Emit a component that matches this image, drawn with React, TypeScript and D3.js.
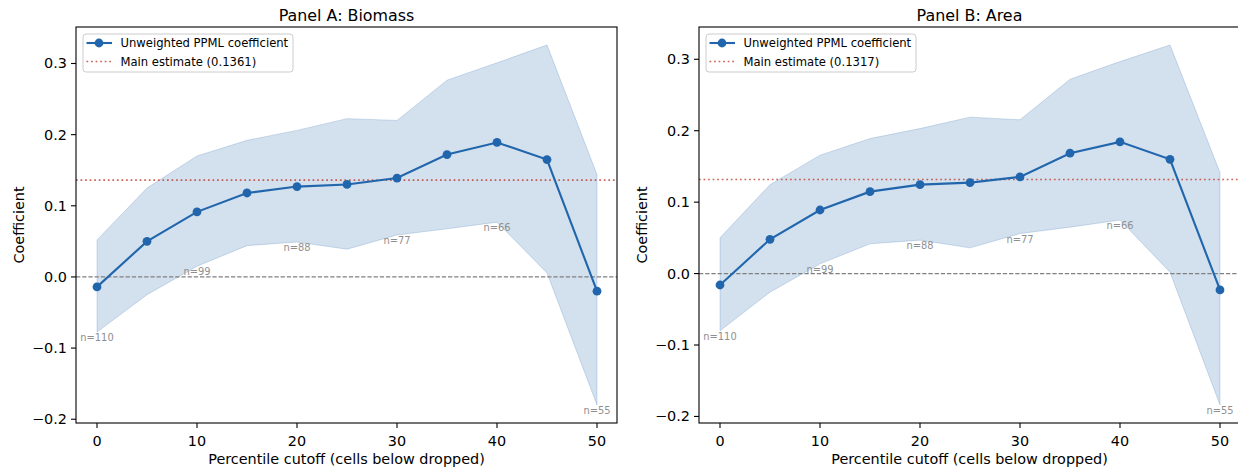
import React from "react";
import * as d3 from "d3";

const cutoffs = [0, 5, 10, 15, 20, 25, 30, 35, 40, 45, 50];
const biomassCoef = [-0.014, 0.05, 0.0915, 0.118, 0.127, 0.13, 0.139, 0.172, 0.189, 0.165, -0.02];
const biomassUpper = [0.052, 0.125, 0.17, 0.192, 0.206, 0.2225, 0.22, 0.2765, 0.301, 0.326, 0.144];
const biomassLower = [-0.0775, -0.025, 0.015, 0.044, 0.049, 0.039, 0.059, 0.0676, 0.077, 0.0056, -0.18];
const areaCoef = [-0.016, 0.048, 0.089, 0.1147, 0.1245, 0.1273, 0.1353, 0.1685, 0.1844, 0.16, -0.0229];
const areaUpper = [0.05, 0.1245, 0.1657, 0.189, 0.203, 0.219, 0.2153, 0.272, 0.2968, 0.32, 0.1414];
const areaLower = [-0.08, -0.026, 0.0136, 0.0417, 0.0468, 0.036, 0.056, 0.065, 0.0749, 0.002, -0.184];
const nLabelCutoffs = [0, 10, 20, 30, 40, 50];
const nLabels = [110, 99, 88, 77, 66, 55];
const xTicks = [0, 10, 20, 30, 40, 50];
const yTicks = [-0.2, -0.1, 0.0, 0.1, 0.2, 0.3];
const biomassMain = 0.1361;
const areaMain = 0.1317;

const FONT = "DejaVu Sans, sans-serif";
const BLUE = "#2166ac";
const RED = "#c0392b";

type PanelProps = {
  left: number;
  title: string;
  coef: number[];
  upper: number[];
  lower: number[];
  main: number;
};

function Panel({ left, title, coef, upper, lower, main }: PanelProps) {
  const top = 27;
  const bottom = 423;
  const width = 541;
  const right = left + width;
  const x = d3.scaleLinear().domain([-2.1, 52]).range([left, right]);
  const lo = d3.min(lower)!;
  const hi = d3.max(upper)!;
  const m = (hi - lo) * 0.05;
  const y = d3.scaleLinear().domain([lo - m, hi + m]).range([bottom, top]);
  const area = d3
    .area<number>()
    .x((_, i) => x(cutoffs[i]))
    .y0((_, i) => y(lower[i]))
    .y1((_, i) => y(upper[i]));
  const line = d3
    .line<number>()
    .x((_, i) => x(cutoffs[i]))
    .y((d) => y(d));
  const fmt = (v: number) => (v < 0 ? "\u2212" : "") + Math.abs(v).toFixed(1);
  const clipId = "clip" + left;
  const lgX = left + 7;
  const lgY = 34;
  return (
    <g>
      <defs>
        <clipPath id={clipId}>
          <rect x={left} y={top} width={width} height={bottom - top} />
        </clipPath>
      </defs>
      <g clipPath={`url(#${clipId})`}>
        <path d={area(coef) || ""} fill={BLUE} fillOpacity={0.2} stroke={BLUE} strokeOpacity={0.2} strokeWidth={1} />
        <line x1={left} x2={right} y1={y(0)} y2={y(0)} stroke="#808080" strokeWidth={1.15} strokeDasharray="4.3,1.9" />
        <line x1={left} x2={right} y1={y(main)} y2={y(main)} stroke={RED} strokeOpacity={0.8} strokeWidth={1.7} strokeDasharray="1.7,2.85" />
        <path d={line(coef) || ""} fill="none" stroke={BLUE} strokeWidth={2.1} />
        {coef.map((c, i) => (
          <circle key={i} cx={x(cutoffs[i])} cy={y(c)} r={4.4} fill={BLUE} />
        ))}
        {nLabelCutoffs.map((c, i) => {
          const idx = cutoffs.indexOf(c);
          return (
            <text key={i} x={x(c)} y={y(lower[idx]) + 9} textAnchor="middle" fontSize={9.9} fill="#8f8f8f" fontFamily={FONT}>
              {"n=" + nLabels[i]}
            </text>
          );
        })}
      </g>
      <rect x={left} y={top} width={width} height={bottom - top} fill="none" stroke="#000" strokeWidth={1.1} />
      {xTicks.map((t) => (
        <g key={t}>
          <line x1={x(t)} x2={x(t)} y1={bottom} y2={bottom + 5} stroke="#000" strokeWidth={1.1} />
          <text x={x(t)} y={bottom + 23} textAnchor="middle" fontSize={14.4} fontFamily={FONT} fill="#000">
            {t}
          </text>
        </g>
      ))}
      {yTicks.map((t) => (
        <g key={t}>
          <line x1={left - 5} x2={left} y1={y(t)} y2={y(t)} stroke="#000" strokeWidth={1.1} />
          <text x={left - 9} y={y(t) + 5} textAnchor="end" fontSize={14.4} fontFamily={FONT} fill="#000">
            {fmt(t)}
          </text>
        </g>
      ))}
      <text x={(left + right) / 2} y={20.5} textAnchor="middle" fontSize={15.9} fontFamily={FONT} fill="#000">
        {title}
      </text>
      <text x={(left + right) / 2} y={464} textAnchor="middle" fontSize={14.4} fontFamily={FONT} fill="#000">
        Percentile cutoff (cells below dropped)
      </text>
      <text
        transform={`translate(${left - 52},${(top + bottom) / 2}) rotate(-90)`}
        textAnchor="middle"
        fontSize={14.4}
        fontFamily={FONT}
        fill="#000"
      >
        Coefficient
      </text>
      <g>
        <rect x={lgX} y={lgY} width={210} height={38} rx={3} fill="#fff" fillOpacity={0.8} stroke="#cccccc" strokeWidth={1} />
        <line x1={lgX + 3.5} x2={lgX + 29} y1={lgY + 9} y2={lgY + 9} stroke={BLUE} strokeWidth={2.1} />
        <circle cx={lgX + 16} cy={lgY + 9} r={4.4} fill={BLUE} />
        <text x={lgX + 37.5} y={lgY + 13.2} fontSize={11.6} fontFamily={FONT} fill="#000">
          Unweighted PPML coefficient
        </text>
        <line x1={lgX + 3.5} x2={lgX + 29} y1={lgY + 27.5} y2={lgY + 27.5} stroke={RED} strokeOpacity={0.8} strokeWidth={1.7} strokeDasharray="1.7,2.85" />
        <text x={lgX + 37.5} y={lgY + 31.7} fontSize={11.6} fontFamily={FONT} fill="#000">
          {`Main estimate (${main.toFixed(4)})`}
        </text>
      </g>
    </g>
  );
}

export default function App() {
  return (
    <svg
      width={1238}
      height={474}
      style={{ position: "absolute", left: 0, top: 0, background: "#fff" }}
    >
      <rect x={0} y={0} width={1238} height={474} fill="#fff" />
      <Panel left={76} title="Panel A: Biomass" coef={biomassCoef} upper={biomassUpper} lower={biomassLower} main={biomassMain} />
      <Panel left={699} title="Panel B: Area" coef={areaCoef} upper={areaUpper} lower={areaLower} main={areaMain} />
    </svg>
  );
}
